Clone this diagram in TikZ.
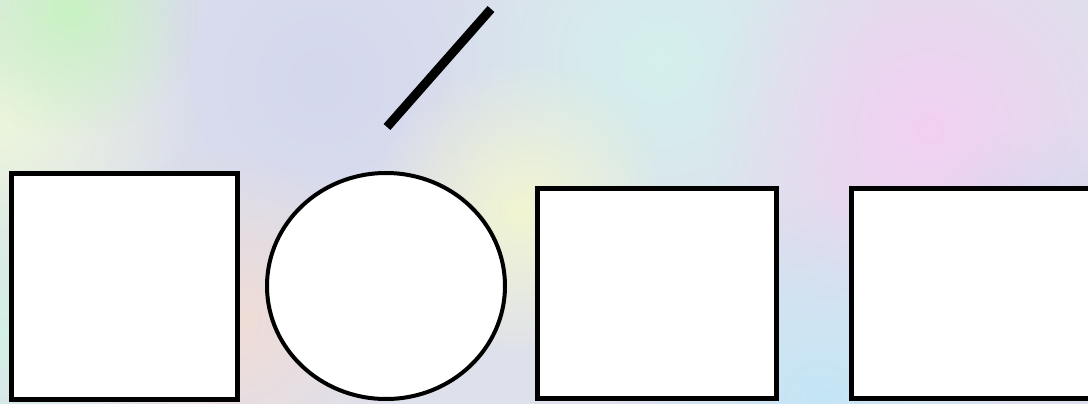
\documentclass[tikz,border=0pt]{standalone}
\usetikzlibrary{fadings,shapes.geometric}
\definecolor{bgbase}{RGB}{222,224,236}
\definecolor{bgreen}{RGB}{200,242,195}
\definecolor{bylw}{RGB}{236,246,220}
\definecolor{blav}{RGB}{212,216,238}
\definecolor{bcyan}{RGB}{212,240,236}
\definecolor{bpink}{RGB}{242,208,242}
\definecolor{bpeach}{RGB}{240,220,214}
\definecolor{bpyel}{RGB}{242,246,210}
\definecolor{bblue}{RGB}{196,230,246}
\definecolor{bmint}{RGB}{212,240,230}
\tikzfading[name=softblob, inner color=transparent!0, outer color=transparent!100]
\tikzset{
  blob/.style={path fading=softblob},
  shapebox/.style={draw=black, line width=5pt, fill=white, inner sep=0pt, outer sep=0pt},
  stroke/.style={line width=9pt, black}
}
\begin{document}
\begin{tikzpicture}[x=1pt,y=-1pt]
\useasboundingbox (0,0) rectangle (1088,404);
\fill[bgbase] (0,0) rectangle (1088,404);
\begin{scope}
\clip (0,0) rectangle (1088,404);
\fill[blav, blob] (320,80) circle (260);
\fill[bylw, blob] (0,120) circle (200);
\fill[bgreen, blob] (70,10) circle (130);
\fill[bcyan, blob] (660,60) circle (230);
\fill[bpink, blob] (930,130) circle (220);
\fill[bmint, blob] (0,330) circle (150);
\fill[bpeach, blob] (230,320) circle (170);
\fill[bpyel, blob] (520,210) circle (150);
\fill[bblue, blob] (820,400) circle (200);
\fill[blav, blob] (1060,270) circle (150);
\end{scope}
\node[shapebox, minimum width=225.5pt, minimum height=225.5pt] (sq) at (124.25,286.25) {};
\node[shapebox, ellipse, line width=4pt, minimum width=238pt, minimum height=226pt] (el) at (386,286) {};
\node[shapebox, minimum width=239pt, minimum height=210pt] (r1) at (657,293.5) {};
\draw[shapebox] (1100,188.5) -- (851.5,188.5) -- (851.5,398.5) -- (1100,398.5);
\coordinate (ltop) at (491,9);
\coordinate (lbot) at (387,127);
\draw[stroke] (lbot) -- (ltop);
\end{tikzpicture}
\end{document}
